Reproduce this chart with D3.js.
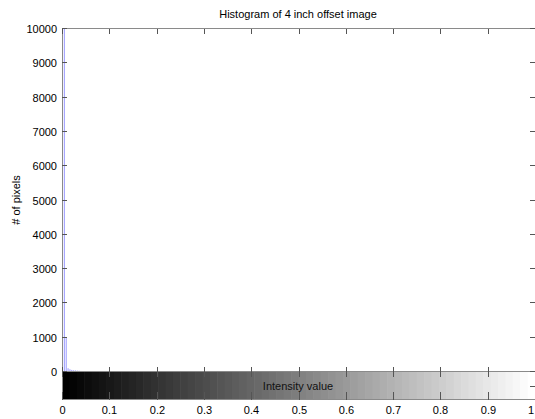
<!DOCTYPE html>
<html>
<head>
<meta charset="utf-8">
<script src="https://cdn.jsdelivr.net/npm/d3@7"></script>
<style>
  body { margin: 0; background: #fff; }
  text { font-family: "Liberation Sans", Arial, sans-serif; }
</style>
</head>
<body>
<div id="chart"></div>
<script>
// histogram bins (index out of 256) and counts
const binIndex = [0, 1, 2, 3, 4, 5, 6, 7, 8, 9, 10, 11, 12, 13, 14, 15, 16, 17, 18, 19, 20];
const binCounts = [10000, 10000, 1000, 110, 80, 60, 50, 45, 40, 35, 30, 25, 22, 20, 18, 15, 12, 10, 8, 6, 4];
const xTicks = [0, 0.1, 0.2, 0.3, 0.4, 0.5, 0.6, 0.7, 0.8, 0.9, 1];
const yTicks = [0, 1000, 2000, 3000, 4000, 5000, 6000, 7000, 8000, 9000, 10000];
const grayLevels = d3.range(64);

const W = 535, H = 419;
const mLeft = 62, mRight = 535, mTop = 29, mBottom = 372, cbBottom = 400;
const axisColor = "#8a8a8a";
const tickLen = 5;

const svg = d3.select("#chart").append("svg")
    .attr("width", W)
    .attr("height", H);

const x = d3.scaleLinear().domain([0, 1]).range([mLeft, mRight]);
const y = d3.scaleLinear().domain([0, 10000]).range([mBottom, mTop]);

svg.append("clipPath").attr("id", "plotClip")
    .append("rect")
    .attr("x", mLeft).attr("y", mTop)
    .attr("width", mRight - mLeft).attr("height", mBottom - mTop);

// stems
svg.append("g")
    .attr("clip-path", "url(#plotClip)")
    .selectAll("line")
    .data(binIndex)
    .enter()
    .append("line")
    .attr("x1", (d) => x(d / 255) + 0.5)
    .attr("x2", (d) => x(d / 255) + 0.5)
    .attr("y1", y(0))
    .attr("y2", (d, i) => y(binCounts[i]))
    .attr("stroke", "#8c8cff")
    .attr("stroke-width", 0.9);

// colorbar
const cb = d3.scaleBand().domain(grayLevels).range([mLeft, mRight]);
svg.append("g")
    .selectAll("rect")
    .data(grayLevels)
    .enter()
    .append("rect")
    .attr("x", (d) => cb(d))
    .attr("y", mBottom)
    .attr("width", cb.bandwidth() + 0.6)
    .attr("height", cbBottom - mBottom)
    .attr("fill", (d) => {
        let v = Math.round(d / 63 * 255);
        return d3.rgb(v, v, v);
    });

// axis boxes
svg.append("rect")
    .attr("x", mLeft + 0.5).attr("y", mTop - 0.5)
    .attr("width", mRight - mLeft).attr("height", mBottom - mTop)
    .attr("fill", "none").attr("stroke", axisColor);
svg.append("rect")
    .attr("x", mLeft + 0.5).attr("y", mBottom - 0.5)
    .attr("width", mRight - mLeft).attr("height", cbBottom - mBottom)
    .attr("fill", "none").attr("stroke", axisColor);

// y ticks (left and right, inward)
let yt = svg.append("g");
yTicks.forEach(function (t) {
    let yy = Math.round(y(t)) - 0.5;
    yt.append("line").attr("x1", mLeft).attr("x2", mLeft + tickLen)
        .attr("y1", yy).attr("y2", yy).attr("stroke", "#555");
    yt.append("line").attr("x1", mRight - tickLen).attr("x2", mRight)
        .attr("y1", yy).attr("y2", yy).attr("stroke", "#555");
    yt.append("text")
        .attr("x", mLeft - 5).attr("y", yy + 4)
        .attr("text-anchor", "end")
        .attr("font-size", 11)
        .text(t);
});

// x ticks: top and bottom of histogram, top and bottom of colorbar
let xt = svg.append("g");
xTicks.forEach(function (t) {
    let xx = Math.round(x(t)) + 0.5;
    let last = t === 1;
    xt.append("line").attr("x1", xx).attr("x2", xx)
        .attr("y1", mTop).attr("y2", mTop + tickLen).attr("stroke", "#555");
    xt.append("line").attr("x1", xx).attr("x2", xx)
        .attr("y1", mBottom - tickLen).attr("y2", mBottom + tickLen).attr("stroke", "#555");
    xt.append("line").attr("x1", xx).attr("x2", xx)
        .attr("y1", cbBottom - tickLen - 3).attr("y2", cbBottom).attr("stroke", "#555");
    xt.append("text")
        .attr("x", last ? W - 1 : xx).attr("y", 414)
        .attr("text-anchor", last ? "end" : "middle")
        .attr("font-size", 11)
        .text(t);
});
// colorbar right tick
svg.append("line")
    .attr("x1", mRight - tickLen).attr("x2", mRight)
    .attr("y1", 386.5).attr("y2", 386.5).attr("stroke", "#555");

// labels
svg.append("text")
    .attr("x", 298).attr("y", 18)
    .attr("text-anchor", "middle")
    .attr("font-size", 11)
    .text("Histogram of 4 inch offset image");

svg.append("text")
    .attr("x", 298).attr("y", 390)
    .attr("text-anchor", "middle")
    .attr("font-size", 11)
    .attr("fill", "#111")
    .text("Intensity value");

svg.append("text")
    .attr("transform", "translate(20, 200) rotate(-90)")
    .attr("text-anchor", "middle")
    .attr("font-size", 11)
    .text("# of pixels");
</script>
</body>
</html>
